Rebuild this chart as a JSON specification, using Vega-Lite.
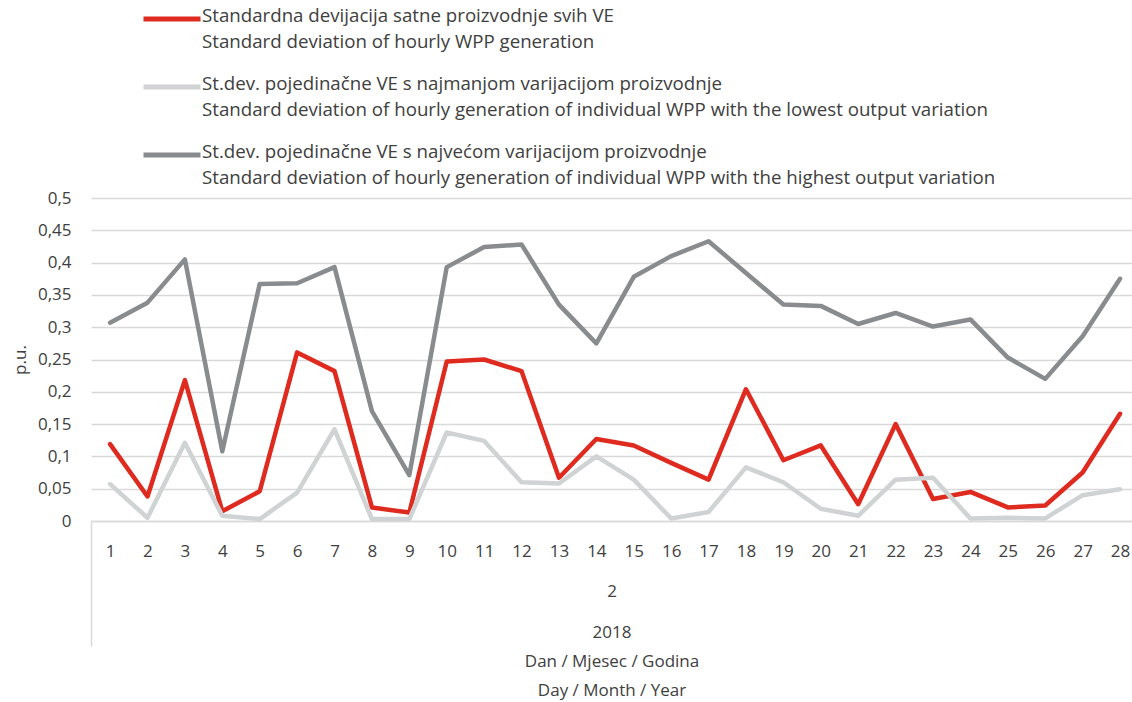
{
  "$schema": "https://vega.github.io/schema/vega-lite/v6.json",
  "width": 1041,
  "height": 323,
  "autosize": {"type": "none"},
  "padding": {"left": 91, "top": 198, "right": 0, "bottom": 181},
  "background": "white",
  "config": {
    "view": {"stroke": null},
    "font": "Open Sans",
    "axis": {"labelFont": "Open Sans", "titleFont": "Open Sans", "labelColor": "#404040", "titleColor": "#404040", "labelFontSize": 17, "titleFontSize": 17, "titleFontWeight": "normal"},
    "legend": {"labelFont": "Open Sans", "labelFontSize": 18.7, "labelColor": "#404040"}
  },
  "datasets": {
    "rows": [
      {"day": 1, "s": "all", "v": 0.119}, {"day": 2, "s": "all", "v": 0.038}, {"day": 3, "s": "all", "v": 0.218}, {"day": 4, "s": "all", "v": 0.015},
      {"day": 5, "s": "all", "v": 0.046}, {"day": 6, "s": "all", "v": 0.261}, {"day": 7, "s": "all", "v": 0.232}, {"day": 8, "s": "all", "v": 0.021},
      {"day": 9, "s": "all", "v": 0.013}, {"day": 10, "s": "all", "v": 0.247}, {"day": 11, "s": "all", "v": 0.250}, {"day": 12, "s": "all", "v": 0.232},
      {"day": 13, "s": "all", "v": 0.067}, {"day": 14, "s": "all", "v": 0.127}, {"day": 15, "s": "all", "v": 0.117}, {"day": 16, "s": "all", "v": 0.090},
      {"day": 17, "s": "all", "v": 0.064}, {"day": 18, "s": "all", "v": 0.204}, {"day": 19, "s": "all", "v": 0.094}, {"day": 20, "s": "all", "v": 0.117},
      {"day": 21, "s": "all", "v": 0.026}, {"day": 22, "s": "all", "v": 0.150}, {"day": 23, "s": "all", "v": 0.034}, {"day": 24, "s": "all", "v": 0.045},
      {"day": 25, "s": "all", "v": 0.021}, {"day": 26, "s": "all", "v": 0.024}, {"day": 27, "s": "all", "v": 0.075}, {"day": 28, "s": "all", "v": 0.166},
      {"day": 1, "s": "min", "v": 0.057}, {"day": 2, "s": "min", "v": 0.005}, {"day": 3, "s": "min", "v": 0.121}, {"day": 4, "s": "min", "v": 0.008},
      {"day": 5, "s": "min", "v": 0.003}, {"day": 6, "s": "min", "v": 0.044}, {"day": 7, "s": "min", "v": 0.142}, {"day": 8, "s": "min", "v": 0.003},
      {"day": 9, "s": "min", "v": 0.003}, {"day": 10, "s": "min", "v": 0.137}, {"day": 11, "s": "min", "v": 0.124}, {"day": 12, "s": "min", "v": 0.060},
      {"day": 13, "s": "min", "v": 0.058}, {"day": 14, "s": "min", "v": 0.100}, {"day": 15, "s": "min", "v": 0.064}, {"day": 16, "s": "min", "v": 0.004},
      {"day": 17, "s": "min", "v": 0.014}, {"day": 18, "s": "min", "v": 0.083}, {"day": 19, "s": "min", "v": 0.060}, {"day": 20, "s": "min", "v": 0.019},
      {"day": 21, "s": "min", "v": 0.008}, {"day": 22, "s": "min", "v": 0.064}, {"day": 23, "s": "min", "v": 0.067}, {"day": 24, "s": "min", "v": 0.004},
      {"day": 25, "s": "min", "v": 0.005}, {"day": 26, "s": "min", "v": 0.004}, {"day": 27, "s": "min", "v": 0.040}, {"day": 28, "s": "min", "v": 0.049},
      {"day": 1, "s": "max", "v": 0.307}, {"day": 2, "s": "max", "v": 0.338}, {"day": 3, "s": "max", "v": 0.405}, {"day": 4, "s": "max", "v": 0.108},
      {"day": 5, "s": "max", "v": 0.367}, {"day": 6, "s": "max", "v": 0.368}, {"day": 7, "s": "max", "v": 0.393}, {"day": 8, "s": "max", "v": 0.170},
      {"day": 9, "s": "max", "v": 0.071}, {"day": 10, "s": "max", "v": 0.393}, {"day": 11, "s": "max", "v": 0.424}, {"day": 12, "s": "max", "v": 0.428},
      {"day": 13, "s": "max", "v": 0.335}, {"day": 14, "s": "max", "v": 0.275}, {"day": 15, "s": "max", "v": 0.378}, {"day": 16, "s": "max", "v": 0.410},
      {"day": 17, "s": "max", "v": 0.433}, {"day": 18, "s": "max", "v": 0.384}, {"day": 19, "s": "max", "v": 0.335}, {"day": 20, "s": "max", "v": 0.333},
      {"day": 21, "s": "max", "v": 0.305}, {"day": 22, "s": "max", "v": 0.322}, {"day": 23, "s": "max", "v": 0.301}, {"day": 24, "s": "max", "v": 0.312},
      {"day": 25, "s": "max", "v": 0.253}, {"day": 26, "s": "max", "v": 0.220}, {"day": 27, "s": "max", "v": 0.286}, {"day": 28, "s": "max", "v": 0.375}
    ]
  },
  "data": {"name": "rows"},
  "resolve": {"axis": {"x": "independent"}},
  "encoding": {
    "y": {
      "field": "v", "type": "quantitative",
      "scale": {"domain": [0, 0.5], "nice": false},
      "axis": {
        "values": [0, 0.05, 0.1, 0.15, 0.2, 0.25, 0.3, 0.35, 0.4, 0.45, 0.5],
        "labelExpr": "replace(format(datum.value, '~g'), '.', ',')",
        "labelOverlap": false, "labelFlush": false,
        "domain": false, "ticks": false, "grid": true, "gridColor": "#d9d9d9", "gridWidth": 1.5,
        "labelPadding": 20, "title": "p.u.", "titlePadding": 8
      }
    },
    "color": {
      "field": "s", "type": "nominal",
      "scale": {"domain": ["all", "min", "max"], "range": ["#de2a1f", "#d0d3d4", "#898c8e"]},
      "legend": {
        "orient": "none", "legendX": 50, "legendY": -210, "direction": "vertical",
        "title": null, "padding": 0,
        "symbolType": "stroke", "symbolSize": 3249, "symbolStrokeWidth": 5,
        "labelOffset": -1, "labelLimit": 1000, "rowPadding": 4,
        "labelBaseline": "top",
        "labelExpr": "datum.value == 'all' ? ['Standardna devijacija satne proizvodnje svih VE', 'Standard deviation of hourly WPP generation'] : datum.value == 'min' ? ['St.dev. pojedinačne VE s najmanjom varijacijom proizvodnje', 'Standard deviation of hourly generation of individual WPP with the lowest output variation'] : ['St.dev. pojedinačne VE s najvećom varijacijom proizvodnje', 'Standard deviation of hourly generation of individual WPP with the highest output variation']",
        "encode": {"labels": {"update": {"lineHeight": {"value": 26}, "dy": {"value": -12}}}}
      }
    }
  },
  "layer": [
    {
      "transform": [{"filter": "datum.s == 'all'"}],
      "mark": {"type": "line", "strokeWidth": 4.5, "strokeJoin": "round", "strokeCap": "round"},
      "encoding": {
        "x": {
          "field": "day", "type": "quantitative",
          "scale": {"domain": [0.49, 28.32], "nice": false, "zero": false},
          "axis": {
            "orient": "bottom",
            "values": [1,2,3,4,5,6,7,8,9,10,11,12,13,14,15,16,17,18,19,20,21,22,23,24,25,26,27,28],
            "format": "d", "ticks": false, "grid": false, "labelPadding": 22,
            "domain": true, "domainColor": "#d9d9d9", "domainWidth": 1.5,
            "labelFlush": false, "labelOverlap": false,
            "title": "2", "titlePadding": 24
          }
        }
      }
    },
    {
      "transform": [{"filter": "datum.s == 'min'"}],
      "mark": {"type": "line", "strokeWidth": 4.5, "strokeJoin": "round", "strokeCap": "round"},
      "encoding": {
        "x": {
          "field": "day", "type": "quantitative",
          "axis": {"orient": "bottom", "values": [0.49], "labels": false, "domain": false, "grid": false, "ticks": true, "tickSize": 125, "tickColor": "#d9d9d9", "tickWidth": 1.5, "title": null}
        }
      }
    },
    {
      "transform": [{"filter": "datum.s == 'max'"}],
      "mark": {"type": "line", "strokeWidth": 4.5, "strokeJoin": "round", "strokeCap": "round"},
      "encoding": {
        "x": {
          "field": "day", "type": "quantitative",
          "axis": {"orient": "bottom", "values": [], "labels": false, "domain": false, "grid": false, "ticks": false, "title": ["2018", "Dan / Mjesec / Godina", "Day / Month / Year"], "titleLineHeight": 29, "titlePadding": 103}
        }
      }
    }
  ]
}
